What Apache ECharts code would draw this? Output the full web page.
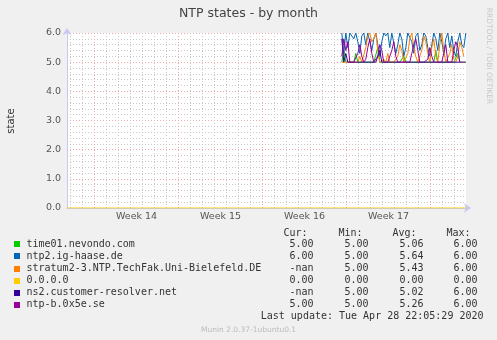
<!DOCTYPE html>
<html><head><meta charset="utf-8">
<script src="https://cdn.jsdelivr.net/npm/echarts@6/dist/echarts.min.js"></script>
<style>html,body{margin:0;padding:0;background:#f0f0f0}#c{width:497px;height:340px}</style>
</head><body><div id="c"></div>
<script>
// ---- chart content ----
const chartTitle = 'NTP states - by month';
const yAxisName = 'state';
const yMin = 0, yMax = 6;
const weekLabels = ['Week 14', 'Week 15', 'Week 16', 'Week 17'];
// x unit: days from the left edge of the plot
const xMax = 33.25;
const weekBoundaries = [2.3, 9.3, 16.3, 23.3, 30.3];
const weekMids = [5.8, 12.8, 19.8, 26.8];
const dayLines = [0.3,1.3,2.3,3.3,4.3,5.3,6.3,7.3,8.3,9.3,10.3,11.3,12.3,13.3,14.3,15.3,16.3,17.3,18.3,19.3,20.3,21.3,22.3,23.3,24.3,25.3,26.3,27.3,28.3,29.3,30.3,31.3,32.3];
const dataStart = 22.9;          // day where the NTP peer samples begin
const dataStep = 1 / 6;          // 4-hour samples

const seriesNames = ['time01.nevondo.com', 'ntp2.ig-haase.de', 'stratum2-3.NTP.TechFak.Uni-Bielefeld.DE', '0.0.0.0', 'ns2.customer-resolver.net', 'ntp-b.0x5e.se'];
const seriesColors = ['#00cc00', '#0066b3', '#ff8000', '#ffcc00', '#330099', '#990099'];

const time01 = [5,5.4,5,5,5,5,5,5.3, 5,5,5,5,5,5,5,5,5,5, 5.5, 5,5,5,5,5,5,5,5,5,5,5,5, 5.2, 5,5,5,5,5,5,5,5,5,5,5,5,5,5,5, 5.4, 5,5,5,5,5,5,5,5,5,5, 5.3, 5,5,5,5];
const ntp2 = [6,5.3,6,5.5,6,6,5.8,6,5.7,5.3,5.9,6,5.6,6,6,5.4,5.8,6,6,5.2,5.7,6,5.9,6,5.5,6,6,5.3,5.6,6,5.8,5.2,5.5,6,6,5.7,5.3,5.9,6,5.4,5.6,6,5.9,5.5,5.2,5.6,6,5.8,5.4,6,5.7,5.3,5.8,6,5.5,5.9,5.4,5.2,5.7,6,5.6,5.5,6];
const stratum2 = [5,5,5,5,5,5,5,5,5,5.2,5,5,5.5,5.9,6,5.7,5.8,6,5.4,5,5,5.1,5,5.3,5,5,5,5,5.2,5.6,5.4,5,5,5.3,5.8,6,5.5,5.2,5,5,5.4,5.9,5.7,5.3,5,5.5,5.8,5.2,5,5.6,6,5.4,5,5,5.3,5.6,5.1,5,5.2,5.7,5.5,5.2,null];
const zeroPeer = [0,0,0,0,0,0,0,0,0,0,0,0,0,0,0,0,0,0,0,0,0,0,0,0,0,0,0,0,0,0,0,0,0,0];
const ns2 = [5.8,5,5.3,5,5,5,5,5,5,5,5,5,5,5,5,5,5,5,5,5.4,5,5,5,5,5,5,5,5,5,5,5,5,5,5,5,5,5,5,5,5,5,5,5,5,5,5,5,5,5,5,5,5,5,5,5,5,5,5,5,5,null,null,null];
const ntpb = [5.2,5.8,5.4,5.7,5,5,5,5,5.3,5.6,5.2,5,5.1,5.5,5.8,5.3,5,5,5.2,5.6,5.4,5,5,5,5,5.4,5.7,5.2,5,5,5,5,5,5,5,5.3,5.6,5.8,5.4,5,5,5,5,5.1,5.5,5.2,5,5,5,5,5,5.3,5.6,5,5,5,5.4,5.7,5.5,5,5,5,5];

const statHeaders = ['Cur:', 'Min:', 'Avg:', 'Max:'];
const statRows = [
  ['5.00', '5.00', '5.06', '6.00'],
  ['6.00', '5.00', '5.64', '6.00'],
  ['-nan', '5.00', '5.43', '6.00'],
  ['0.00', '0.00', '0.00', '0.00'],
  ['-nan', '5.00', '5.02', '6.00'],
  ['5.00', '5.00', '5.26', '6.00']
];
const lastUpdate = 'Last update: Tue Apr 28 22:05:29 2020';
const footer = 'Munin 2.0.37-1ubuntu0.1';
const sideText = 'RRDTOOL / TOBI OETIKER';

// ---- build ----
function peerPoints(vals) { return vals.map((v, i) => [dataStart + i * dataStep, v]); }
function spanPoints(vals) { return vals.map((v, i) => [i * xMax / (vals.length - 1), v]); }
const seriesData = [peerPoints(time01), peerPoints(ntp2), peerPoints(stratum2), spanPoints(zeroPeer), peerPoints(ns2), peerPoints(ntpb)];

const SANS = 'DejaVu Sans';
const MONO = 'DejaVu Sans Mono';
const axisCol = '#c8c8f0';
const majorCol = '#eeaaaa';
const minorCol = '#c8c8c8';

const graphics = [];
graphics.push({type:'text', x:248.5, y:14, style:{text:chartTitle, font:'12.5px "'+SANS+'"', fill:'#444', align:'center', verticalAlign:'middle'}});
graphics.push({type:'text', x:11, y:121, rotation:Math.PI/2, style:{text:yAxisName, font:'10px "'+SANS+'"', fill:'#333', align:'center', verticalAlign:'middle'}});
graphics.push({type:'text', x:488.5, y:56, rotation:-Math.PI/2, style:{text:sideText, font:'7.5px "'+SANS+'"', fill:'#c8c8c8', align:'center', verticalAlign:'middle'}});
const headerX = [283.5, 338.5, 392.5, 446.5];
const valX = [313.5, 368.5, 423.5, 477.5];
statHeaders.forEach((h, k) => graphics.push({type:'text', x:headerX[k], y:233, style:{text:h, font:'10px "'+MONO+'"', fill:'#333', align:'left', verticalAlign:'middle'}}));
seriesNames.forEach((name, r) => {
  const y = 244.3 + r * 12.12;
  graphics.push({type:'rect', shape:{x:14, y:Math.round(y) - 3, width:6, height:6}, style:{fill:seriesColors[r]}});
  graphics.push({type:'text', x:26.5, y:y, style:{text:name, font:'10px "'+MONO+'"', fill:'#333', align:'left', verticalAlign:'middle'}});
  statRows[r].forEach((v, k) => graphics.push({type:'text', x:valX[k], y:y, style:{text:v, font:'10px "'+MONO+'"', fill:'#333', align:'right', verticalAlign:'middle'}}));
});
graphics.push({type:'text', x:483.5, y:316.7, style:{text:lastUpdate, font:'10px "'+MONO+'"', fill:'#333', align:'right', verticalAlign:'middle'}});
graphics.push({type:'text', x:248.5, y:330, style:{text:footer, font:'7.5px "'+SANS+'"', fill:'#bbb', align:'center', verticalAlign:'middle'}});

const chart = echarts.init(document.getElementById('c'), null, {renderer:'canvas'});
chart.setOption({
  animation:false,
  backgroundColor:'#f0f0f0',
  grid:{left:67, top:33, width:399, height:175, show:true, backgroundColor:'#ffffff', borderWidth:0},
  xAxis:[
    {type:'value', min:0, max:xMax,
     axisLine:{show:true, lineStyle:{color:axisCol, width:1}, symbol:['none','arrow'], symbolSize:[7,7], symbolOffset:[0,5]},
     axisTick:{show:false, customValues:dayLines},
     axisLabel:{show:true, customValues:weekMids, margin:4, fontSize:9.5, fontFamily:SANS, color:'#555',
       formatter:(v) => weekLabels[Math.round((v - weekMids[0]) / 7)] || ''},
     splitLine:{show:true, lineStyle:{color:minorCol, type:[1,2], width:1}}},
    {type:'value', min:0, max:xMax, position:'bottom',
     axisLine:{show:false}, axisLabel:{show:false},
     axisTick:{show:false, customValues:weekBoundaries},
     splitLine:{show:true, lineStyle:{color:majorCol, type:[1,2], width:1}}}
  ],
  yAxis:{type:'value', min:yMin, max:yMax, interval:1,
    axisLine:{show:true, lineStyle:{color:axisCol, width:1}, symbol:['none','arrow'], symbolSize:[7,7], symbolOffset:[0,5]},
    axisTick:{show:false},
    axisLabel:{margin:6, fontSize:9.5, fontFamily:SANS, color:'#555', formatter:(v) => v.toFixed(1)},
    splitLine:{show:true, lineStyle:{color:majorCol, type:[1,2], width:1}},
    minorTick:{show:false, splitNumber:5},
    minorSplitLine:{show:true, lineStyle:{color:minorCol, type:[1,2], width:1}}},
  series: seriesNames.map((n, i) => ({
    name:n, type:'line', xAxisIndex:0, data:seriesData[i], showSymbol:false, symbol:'none',
    lineStyle:{color:seriesColors[i], width:1}, itemStyle:{color:seriesColors[i]}, connectNulls:false, z:2 + i
  })),
  graphic:graphics
});
</script>
</body></html>
